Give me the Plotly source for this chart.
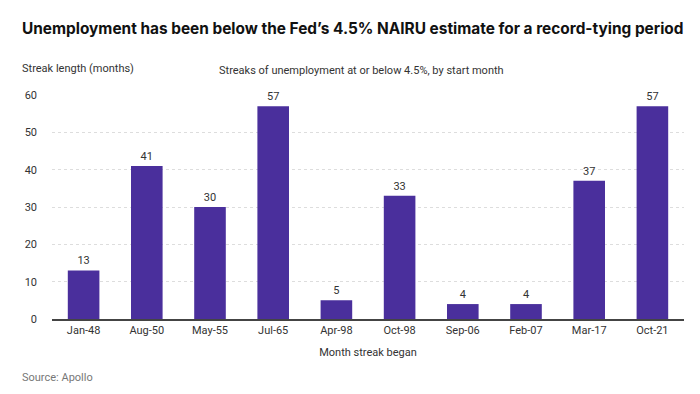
import plotly.graph_objects as go

categories = ["Jan-48", "Aug-50", "May-55", "Jul-65", "Apr-98", "Oct-98", "Sep-06", "Feb-07", "Mar-17", "Oct-21"]
values = [13, 41, 30, 57, 5, 33, 4, 4, 37, 57]
y_ticks = [0, 10, 20, 30, 40, 50, 60]

bar_color = "#4A2F9C"
font_fam = "Roboto, 'Open Sans', sans-serif"

fig = go.Figure(go.Bar(
    x=categories, y=values,
    marker=dict(color=bar_color, line=dict(width=0)),
    text=[str(v) for v in values], textposition="outside",
    textfont=dict(size=11, color="#333333", family=font_fam),
    cliponaxis=False,
))

fig.update_layout(
    width=700, height=394,
    margin=dict(l=52, r=16, t=95, b=75),
    paper_bgcolor="white", plot_bgcolor="white",
    bargap=0.5,
    showlegend=False,
    font=dict(family=font_fam, size=11, color="#333333"),
    xaxis=dict(
        showgrid=False, showline=True, linecolor="#444444", linewidth=1.5,
        ticks="", tickfont=dict(size=11, color="#333333"),
        title=dict(text="Month streak began", font=dict(size=11, color="#333333"), standoff=12),
    ),
    yaxis=dict(
        range=[0, 60], tickvals=y_ticks, showgrid=True,
        gridcolor="#DDDDDD", griddash="dot", gridwidth=1,
        zeroline=False, showline=False, ticks="",
        tickfont=dict(size=11, color="#333333"), ticklabelstandoff=14,
    ),
    annotations=[
        dict(text="<b>Unemployment has been below the Fed’s 4.5% NAIRU estimate for a record-tying period</b>",
             xref="paper", yref="paper", x=0, xanchor="left", y=1, yanchor="middle",
             xshift=-32, yshift=95 - 28,
             showarrow=False, font=dict(family="Inter, sans-serif", size=15.4, color="#111111")),
        dict(text="Streak length (months)", xref="paper", yref="paper", x=0, xanchor="left",
             y=1, yanchor="middle", xshift=-32, yshift=27, showarrow=False,
             font=dict(size=11, color="#333333")),
        dict(text="Streaks of unemployment at or below 4.5%, by start month", xref="paper", yref="paper",
             x=0.49, xanchor="center", y=1, yanchor="middle", yshift=25, showarrow=False,
             font=dict(size=11, color="#333333")),
        dict(text="Source: Apollo", xref="paper", yref="paper", x=0, xanchor="left",
             y=0, yanchor="middle", xshift=-32, yshift=-58, showarrow=False,
             font=dict(size=11, color="#777777")),
    ],
)

fig.write_html("out.html")
